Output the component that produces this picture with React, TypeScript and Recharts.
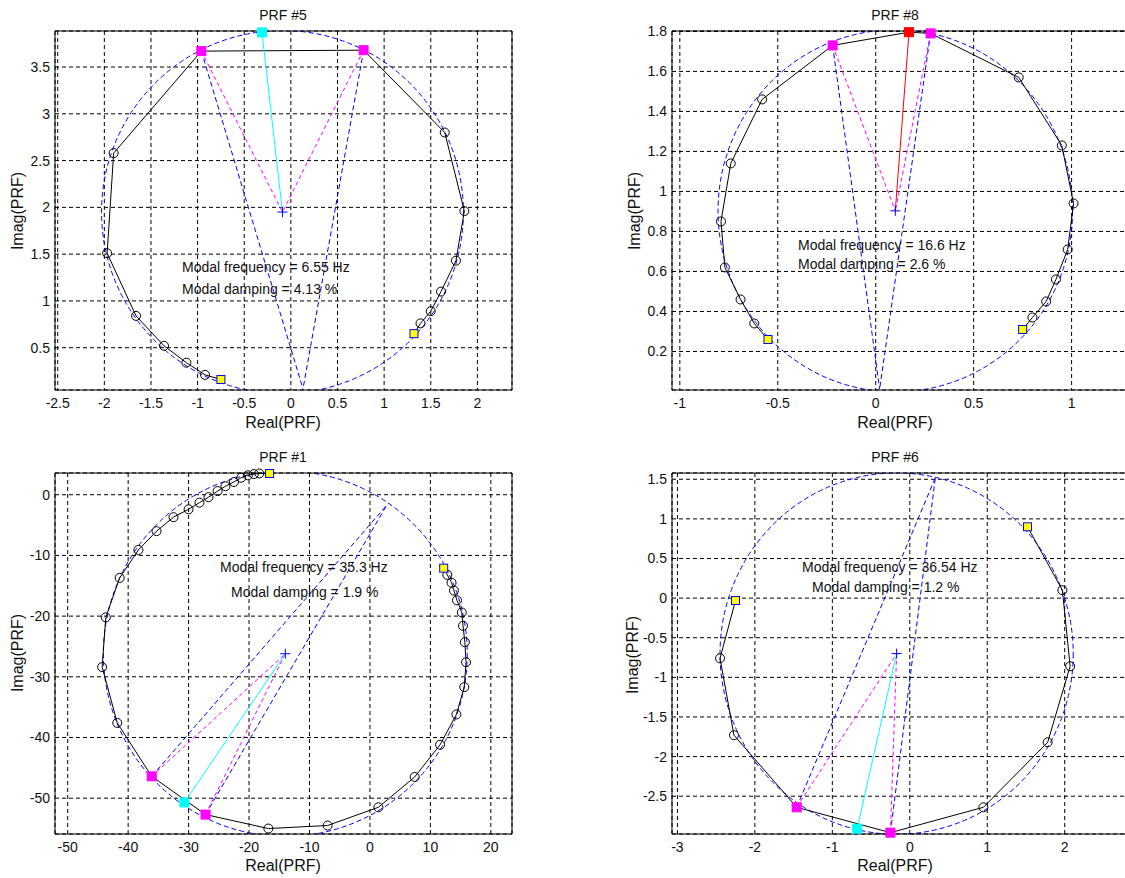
import React from "react";
import { ScatterChart, Scatter, XAxis, YAxis, CartesianGrid, ReferenceArea } from "recharts";

type Pt = [number, number];

// ---- PRF #5 ----
const PRF5_X_DOMAIN: Pt = [-2.529, 2.371];
const PRF5_Y_DOMAIN: Pt = [0.048, 3.885];
const PRF5_X_TICKS = [-2.5, -2, -1.5, -1, -0.5, 0, 0.5, 1, 1.5, 2];
const PRF5_Y_TICKS = [0.5, 1, 1.5, 2, 2.5, 3, 3.5];
const PRF5_MEASURED: Pt[] = [
  [-0.75, 0.16], [-0.92, 0.21], [-1.12, 0.34], [-1.36, 0.52], [-1.66, 0.84], [-1.97, 1.51],
  [-1.9, 2.58], [-0.96, 3.67], [0.78, 3.68], [1.65, 2.8], [1.86, 1.96], [1.77, 1.43],
  [1.61, 1.1], [1.5, 0.89], [1.39, 0.76], [1.32, 0.65],
];
const PRF5_HALF_POWER: Pt[] = [[-0.96, 3.67], [0.78, 3.68]];
const PRF5_PEAK: Pt = [-0.31, 3.87];
const PRF5_CENTER: Pt = [-0.09, 1.95];
const PRF5_RADIUS = 1.94;
const PRF5_OPPOSITE: Pt = [0.13, 0.06];

// ---- PRF #8 ----
const PRF8_X_DOMAIN: Pt = [-1.04, 1.293];
const PRF8_Y_DOMAIN: Pt = [0.0075, 1.802];
const PRF8_X_TICKS = [-1, -0.5, 0, 0.5, 1];
const PRF8_Y_TICKS = [0.2, 0.4, 0.6, 0.8, 1, 1.2, 1.4, 1.6, 1.8];
const PRF8_MEASURED: Pt[] = [
  [-0.55, 0.26], [-0.62, 0.34], [-0.69, 0.46], [-0.77, 0.62], [-0.79, 0.85], [-0.74, 1.14],
  [-0.58, 1.46], [-0.22, 1.73], [0.17, 1.796], [0.28, 1.79], [0.73, 1.57], [0.95, 1.23],
  [1.01, 0.94], [0.98, 0.71], [0.92, 0.56], [0.87, 0.45], [0.8, 0.37], [0.75, 0.31],
];
const PRF8_HALF_POWER: Pt[] = [[-0.22, 1.73], [0.28, 1.79]];
const PRF8_PEAK: Pt = [0.17, 1.796];
const PRF8_CENTER: Pt = [0.1, 0.903];
const PRF8_RADIUS = 0.905;
const PRF8_OPPOSITE: Pt = [0.02, 0.012];

// ---- PRF #1 ----
const PRF1_X_DOMAIN: Pt = [-52.1, 23.5];
const PRF1_Y_DOMAIN: Pt = [-55.9, 3.58];
const PRF1_X_TICKS = [-50, -40, -30, -20, -10, 0, 10, 20];
const PRF1_Y_TICKS = [-50, -40, -30, -20, -10, 0];
const PRF1_MEASURED: Pt[] = [
  [-16.6, 3.5], [-18.3, 3.5], [-19.2, 3.4], [-20.2, 3.2], [-21.3, 2.8], [-22.5, 2.1],
  [-23.9, 1.4], [-25.2, 0.6], [-26.7, -0.4], [-28.2, -1.3], [-30.0, -2.4], [-32.5, -3.7],
  [-35.3, -6.0], [-38.3, -9.1], [-41.4, -13.7], [-43.7, -20.2], [-44.3, -28.4], [-41.8, -37.6],
  [-36.1, -46.4], [-27.2, -52.7], [-16.8, -55.0], [-7.0, -54.5], [1.4, -51.5], [7.4, -46.5],
  [11.6, -41.2], [14.3, -36.2], [15.6, -31.7], [15.9, -27.6], [15.7, -24.3], [15.4, -21.6],
  [15.2, -19.4], [14.4, -17.4], [13.9, -15.8], [13.5, -14.5], [12.8, -13.2], [12.2, -12.1],
];
const PRF1_HALF_POWER: Pt[] = [[-36.1, -46.4], [-27.2, -52.7]];
const PRF1_PEAK: Pt = [-30.7, -50.7];
const PRF1_CENTER: Pt = [-14.0, -26.2];
const PRF1_RADIUS = 30.1;
const PRF1_OPPOSITE: Pt = [2.8, -1.7];

// ---- PRF #6 ----
const PRF6_X_DOMAIN: Pt = [-3.07, 2.83];
const PRF6_Y_DOMAIN: Pt = [-2.977, 1.579];
const PRF6_X_TICKS = [-3, -2, -1, 0, 1, 2];
const PRF6_Y_TICKS = [-2.5, -2, -1.5, -1, -0.5, 0, 0.5, 1, 1.5];
const PRF6_MEASURED: Pt[] = [
  [-2.25, -0.03], [-2.45, -0.76], [-2.27, -1.73], [-1.46, -2.64], [-0.25, -2.96],
  [0.95, -2.64], [1.78, -1.82], [2.07, -0.86], [1.97, 0.1], [1.52, 0.9],
];
const PRF6_HALF_POWER: Pt[] = [[-1.46, -2.64], [-0.25, -2.96]];
const PRF6_PEAK: Pt = [-0.68, -2.91];
const PRF6_CENTER: Pt = [-0.17, -0.7];
const PRF6_RADIUS = 2.28;
const PRF6_OPPOSITE: Pt = [0.33, 1.52];

interface PanelData {
  title: string;
  freq: string;
  damp: string;
  xDomain: Pt;
  yDomain: Pt;
  xTicks: number[];
  yTicks: number[];
  measured: Pt[];
  halfPower: Pt[];
  peak: Pt;
  peakColor: string;
  center: Pt;
  radius: number;
  opposite: Pt;
}

interface PanelLayout {
  left: number;
  top: number;
  width: number;
  height: number;
  marginTop: number;
  marginRight: number;
  yAxisWidth: number;
  xAxisHeight: number;
  titleX: number;
  titleY: number;
  xLabelY: number;
  yLabelX: number;
  plotMidY: number;
  freqPos: Pt;
  dampPos: Pt;
}

const PANELS: { data: PanelData; layout: PanelLayout }[] = [
  {
    data: {
      title: "PRF #5", freq: "Modal frequency = 6.55 Hz", damp: "Modal damping = 4.13 %",
      xDomain: PRF5_X_DOMAIN, yDomain: PRF5_Y_DOMAIN, xTicks: PRF5_X_TICKS, yTicks: PRF5_Y_TICKS,
      measured: PRF5_MEASURED, halfPower: PRF5_HALF_POWER, peak: PRF5_PEAK, peakColor: "#00FFFF",
      center: PRF5_CENTER, radius: PRF5_RADIUS, opposite: PRF5_OPPOSITE,
    },
    layout: {
      left: 0, top: 0, width: 540, height: 440, marginTop: 31, marginRight: 28, yAxisWidth: 55, xAxisHeight: 50,
      titleX: 283, titleY: 15, xLabelY: 423, yLabelX: 18, plotMidY: 211, freqPos: [182, 267], dampPos: [182, 289],
    },
  },
  {
    data: {
      title: "PRF #8", freq: "Modal frequency = 16.6 Hz", damp: "Modal damping = 2.6 %",
      xDomain: PRF8_X_DOMAIN, yDomain: PRF8_Y_DOMAIN, xTicks: PRF8_X_TICKS, yTicks: PRF8_Y_TICKS,
      measured: PRF8_MEASURED, halfPower: PRF8_HALF_POWER, peak: PRF8_PEAK, peakColor: "#FF0000",
      center: PRF8_CENTER, radius: PRF8_RADIUS, opposite: PRF8_OPPOSITE,
    },
    layout: {
      left: 590, top: 0, width: 560, height: 440, marginTop: 31, marginRight: 21, yAxisWidth: 82, xAxisHeight: 50,
      titleX: 895, titleY: 15, xLabelY: 423, yLabelX: 635, plotMidY: 211, freqPos: [798, 245], dampPos: [798, 264],
    },
  },
  {
    data: {
      title: "PRF #1", freq: "Modal frequency = 35.3 Hz", damp: "Modal damping = 1.9 %",
      xDomain: PRF1_X_DOMAIN, yDomain: PRF1_Y_DOMAIN, xTicks: PRF1_X_TICKS, yTicks: PRF1_Y_TICKS,
      measured: PRF1_MEASURED, halfPower: PRF1_HALF_POWER, peak: PRF1_PEAK, peakColor: "#00FFFF",
      center: PRF1_CENTER, radius: PRF1_RADIUS, opposite: PRF1_OPPOSITE,
    },
    layout: {
      left: 0, top: 440, width: 540, height: 440, marginTop: 33, marginRight: 28, yAxisWidth: 55, xAxisHeight: 46,
      titleX: 283, titleY: 457, xLabelY: 866, yLabelX: 18, plotMidY: 653, freqPos: [220, 567], dampPos: [231, 592],
    },
  },
  {
    data: {
      title: "PRF #6", freq: "Modal frequency = 36.54 Hz", damp: "Modal damping = 1.2 %",
      xDomain: PRF6_X_DOMAIN, yDomain: PRF6_Y_DOMAIN, xTicks: PRF6_X_TICKS, yTicks: PRF6_Y_TICKS,
      measured: PRF6_MEASURED, halfPower: PRF6_HALF_POWER, peak: PRF6_PEAK, peakColor: "#00FFFF",
      center: PRF6_CENTER, radius: PRF6_RADIUS, opposite: PRF6_OPPOSITE,
    },
    layout: {
      left: 590, top: 440, width: 560, height: 440, marginTop: 33, marginRight: 21, yAxisWidth: 82, xAxisHeight: 46,
      titleX: 895, titleY: 457, xLabelY: 866, yLabelX: 633, plotMidY: 655, freqPos: [802, 567], dampPos: [812, 587],
    },
  },
];

const toRows = (pts: Pt[]) => pts.map(([x, y]) => ({ x, y }));
const same = (a: Pt, b: Pt) => a[0] === b[0] && a[1] === b[1];

const noMarker = () => <g />;
const openCircle = (p: any) => <circle cx={p.cx} cy={p.cy} r={4.5} fill="none" stroke="#000" strokeWidth={1} />;
const square = (fill: string, edge: string, size: number) => (p: any) => (
  <rect x={p.cx - size / 2} y={p.cy - size / 2} width={size} height={size} fill={fill} stroke={edge} strokeWidth={1} />
);
const plus = (p: any) => (
  <path d={`M${p.cx - 5},${p.cy}h10M${p.cx},${p.cy - 5}v10`} stroke="#0000FF" strokeWidth={1} fill="none" />
);

const GRID_DASH = "4 3";
const BLUE_DASH = "5 3";
const TEXT = "#111";

function Panel({ data, layout }: { data: PanelData; layout: PanelLayout }) {
  const d = data;
  const L = layout;
  const inner = d.measured.filter(
    (p, i) => i > 0 && i < d.measured.length - 1 && !d.halfPower.some((h) => same(h, p)) && !same(p, d.peak)
  );
  const ends = [d.measured[0], d.measured[d.measured.length - 1]];

  return (
    <>
      <div style={{ position: "absolute", left: L.left, top: L.top }}>
        <ScatterChart
          width={L.width}
          height={L.height}
          margin={{ top: L.marginTop, right: L.marginRight, left: 0, bottom: 0 }}
        >
          <CartesianGrid stroke="#000" strokeDasharray={GRID_DASH} />
          <XAxis
            type="number"
            dataKey="x"
            domain={d.xDomain}
            ticks={d.xTicks}
            height={L.xAxisHeight}
            axisLine={false}
            tickLine={false}
            tick={{ fontSize: 14, fill: TEXT }}
            interval={0}
          />
          <YAxis
            type="number"
            dataKey="y"
            domain={d.yDomain}
            ticks={d.yTicks}
            width={L.yAxisWidth}
            axisLine={false}
            tickLine={false}
            tickSize={3}
            tickMargin={2}
            tick={{ fontSize: 14, fill: TEXT }}
            interval={0}
          />
          {/* fitted circle */}
          <ReferenceArea
            x1={d.center[0] - d.radius}
            x2={d.center[0] + d.radius}
            y1={d.center[1] - d.radius}
            y2={d.center[1] + d.radius}
            ifOverflow="hidden"
            shape={(p: any) => (
              <ellipse
                cx={p.x + p.width / 2}
                cy={p.y + p.height / 2}
                rx={Math.abs(p.width) / 2}
                ry={Math.abs(p.height) / 2}
                fill="none"
                stroke="#0000FF"
                strokeDasharray={BLUE_DASH}
                clipPath={p.clipPath}
              />
            )}
          />
          {d.halfPower.map((h, i) => (
            <Scatter
              key={`v${i}`}
              data={toRows([h, d.opposite])}
              shape={noMarker}
              line={{ stroke: "#0000FF", strokeDasharray: BLUE_DASH, strokeWidth: 1 }}
              isAnimationActive={false}
            />
          ))}
          {d.halfPower.map((h, i) => (
            <Scatter
              key={`m${i}`}
              data={toRows([h, d.center])}
              shape={noMarker}
              line={{ stroke: "#FF00FF", strokeDasharray: "4 3", strokeWidth: 1 }}
              isAnimationActive={false}
            />
          ))}
          <Scatter
            data={toRows(d.measured)}
            shape={noMarker}
            line={{ stroke: "#000", strokeWidth: 1 }}
            isAnimationActive={false}
          />
          <Scatter data={toRows(inner)} shape={openCircle} isAnimationActive={false} />
          <Scatter
            data={toRows([d.peak, d.center])}
            shape={noMarker}
            line={{ stroke: d.peakColor, strokeWidth: 1 }}
            isAnimationActive={false}
          />
          <Scatter data={toRows(ends)} shape={square("#FFFF00", "#0000FF", 8)} isAnimationActive={false} />
          <Scatter data={toRows(d.halfPower)} shape={square("#FF00FF", "#FF00FF", 9)} isAnimationActive={false} />
          <Scatter data={toRows([d.peak])} shape={square(d.peakColor, d.peakColor, 9)} isAnimationActive={false} />
          <Scatter data={toRows([d.center])} shape={plus} isAnimationActive={false} />
          {/* axes box */}
          <ReferenceArea
            x1={d.xDomain[0]}
            x2={d.xDomain[1]}
            y1={d.yDomain[0]}
            y2={d.yDomain[1]}
            ifOverflow="visible"
            fill="none"
            fillOpacity={0}
            stroke="#000"
            strokeWidth={1}
          />
        </ScatterChart>
      </div>
      <div style={{ position: "absolute", left: L.titleX, top: L.titleY, transform: "translate(-50%, -50%)", fontSize: 14, color: TEXT, whiteSpace: "nowrap" }}>
        {d.title}
      </div>
      <div style={{ position: "absolute", left: L.titleX, top: L.xLabelY, transform: "translate(-50%, -50%)", fontSize: 16, color: TEXT, whiteSpace: "nowrap" }}>
        Real(PRF)
      </div>
      <div style={{ position: "absolute", left: L.yLabelX, top: L.plotMidY, transform: "translate(-50%, -50%) rotate(-90deg)", fontSize: 16, color: TEXT, whiteSpace: "nowrap" }}>
        Imag(PRF)
      </div>
      <div style={{ position: "absolute", left: L.freqPos[0], top: L.freqPos[1], transform: "translateY(-50%)", fontSize: 14, color: TEXT, whiteSpace: "nowrap" }}>
        {d.freq}
      </div>
      <div style={{ position: "absolute", left: L.dampPos[0], top: L.dampPos[1], transform: "translateY(-50%)", fontSize: 14, color: TEXT, whiteSpace: "nowrap" }}>
        {d.damp}
      </div>
    </>
  );
}

export default function App() {
  return (
    <div
      style={{
        position: "absolute",
        left: 0,
        top: 0,
        width: 1125,
        height: 878,
        overflow: "hidden",
        background: "#fff",
        fontFamily: "'Liberation Sans', Arial, sans-serif",
      }}
    >
      {PANELS.map((p, i) => (
        <Panel key={i} data={p.data} layout={p.layout} />
      ))}
    </div>
  );
}
